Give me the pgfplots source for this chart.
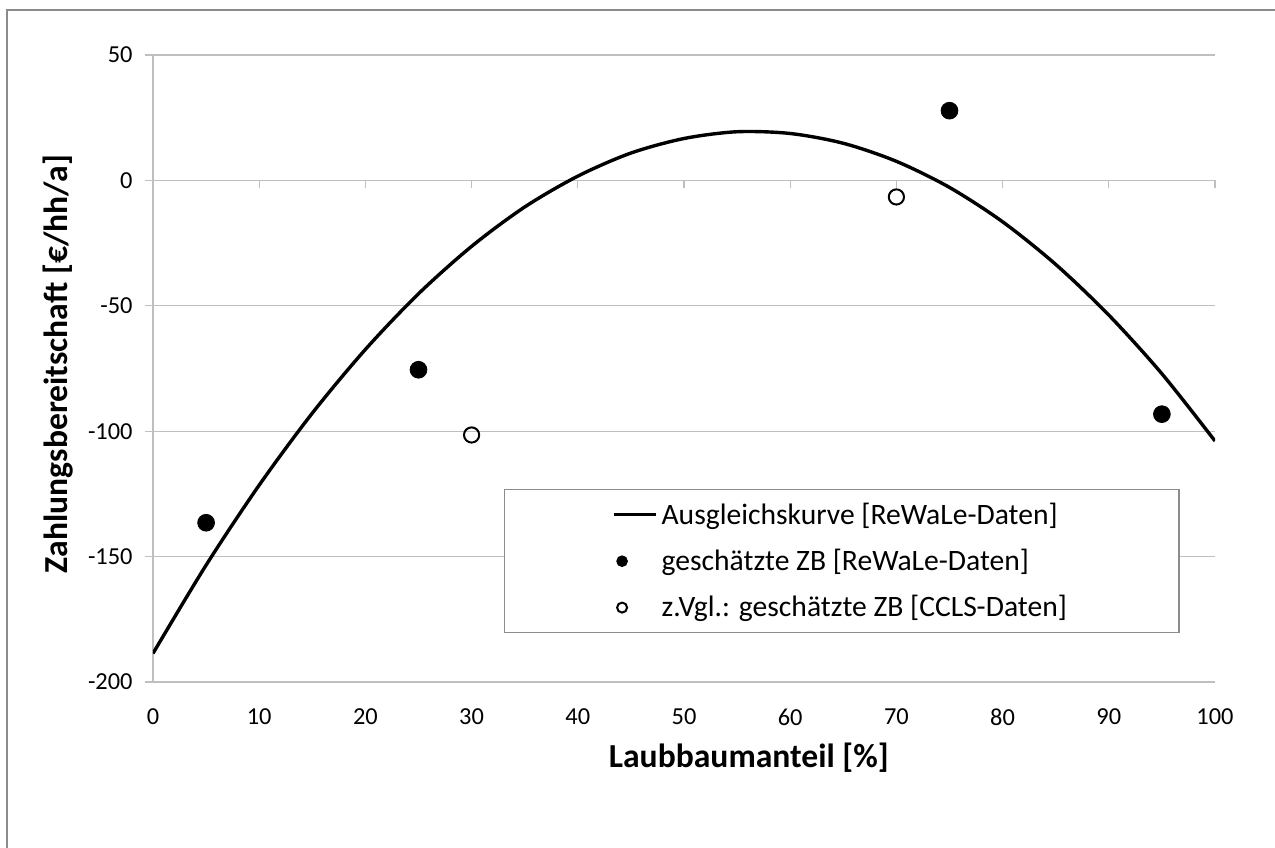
\documentclass[border=0pt]{standalone}
\usepackage{pgfplots}
\pgfplotsset{compat=1.18}
\usepackage{fontspec}
\setmainfont{Carlito}
\definecolor{gridgray}{HTML}{BFBFBF}
\definecolor{framegray}{HTML}{8C8C8C}

\begin{document}
\begin{tikzpicture}
\useasboundingbox (-76.5pt,-82.5pt) rectangle (561pt,341pt);
\draw[framegray, line width=1.2pt] (-73pt,-90pt) -- (-73pt,336pt) -- (570pt,336pt);
% ticks on the zero line
\begin{axis}[
  at={(0,0)}, anchor=south west,
  scale only axis, width=531pt, height=313.5pt,
  xmin=0, xmax=100, ymin=-200, ymax=50,
  axis x line=middle, axis y line=none,
  x axis line style={draw=none},
  xtick={10,20,...,100}, xticklabels={}, ytick=\empty,
  xtick style={gridgray, line width=0.6pt},
  tick align=outside, major tick length=4pt,
]
\addplot[draw=none] coordinates {(0,0)};
\end{axis}
\begin{axis}[
  at={(0,0)}, anchor=south west,
  scale only axis, width=531pt, height=313.5pt,
  xmin=0, xmax=100, ymin=-200, ymax=50,
  axis lines*=left,
  x axis line style={draw=none},
  y axis line style={gridgray, line width=0.6pt},
  xtick={0,10,...,100}, ytick={-200,-150,...,50},
  xtick style={draw=none},
  ytick style={gridgray, line width=0.6pt},
  tick align=outside, major tick length=4pt,
  ymajorgrids, grid style={gridgray, line width=0.6pt},
  /pgf/number format/assume math mode=true,
  tick label style={font=\fontsize{12.2}{14}\selectfont},
  xticklabel style={anchor=center, yshift=-13.5pt},
  yticklabel style={anchor=east, inner sep=0pt, xshift=-6pt},
  xlabel={\textbf{Laubbaumanteil [\%]}},
  ylabel={\textbf{Zahlungsbereitschaft [€/hh/a]}},
  every axis x label/.style={at={(axis description cs:0.561,-0.1212)},
    anchor=center, font=\fontsize{16.8}{19}\selectfont},
  every axis y label/.style={at={(axis description cs:-0.089,0.507)},
    rotate=90, anchor=center, font=\fontsize{16.8}{19}\selectfont},
  legend style={at={(axis description cs:0.3305,0.3078)}, anchor=north west,
    draw=framegray, line width=0.6pt, font=\fontsize{14.8}{17}\selectfont,
    inner xsep=54pt, inner ysep=4.5pt, row sep=7pt, cells={anchor=west}},
  legend image code/.code={%
    \path[draw=none, fill=none] (0pt,0pt) -- (21pt,0pt);
    \draw[#1] plot coordinates {(4pt,0pt)};},
]
\addplot[black, line width=1.7pt, smooth,
  legend image code/.code={\draw[black, line width=1.5pt] (0pt,0pt) -- (21pt,0pt);}]
  coordinates {
  (0,-188.6) (5,-153.4) (10,-121.5) (15,-92.8) (20,-67.4) (25,-45.2)
  (30,-26.3) (35,-10.6) (40,1.7) (45,10.9) (50,16.7) (55,19.4)
  (60,18.7) (65,14.8) (70,7.6) (75,-2.8) (80,-16.5) (85,-33.5)
  (90,-53.7) (95,-77.1) (100,-103.9)
};
\addlegendentry{Ausgleichskurve [ReWaLe-Daten]}
\addplot[only marks, mark=*, mark size=4.2pt, black, fill=black,
  legend image post style={mark size=2.6pt}]
  coordinates {(5,-136.5) (25,-75.5) (75,27.8) (95,-93.2)};
\addlegendentry{geschätzte ZB [ReWaLe-Daten]}
\addplot[only marks, mark=o, mark size=3.8pt, black, line width=1pt,
  legend image post style={mark size=2.5pt}]
  coordinates {(30,-101.5) (70,-6.6)};
\addlegendentry{z.Vgl.: geschätzte ZB [CCLS-Daten]}
\end{axis}
\end{tikzpicture}
\end{document}
